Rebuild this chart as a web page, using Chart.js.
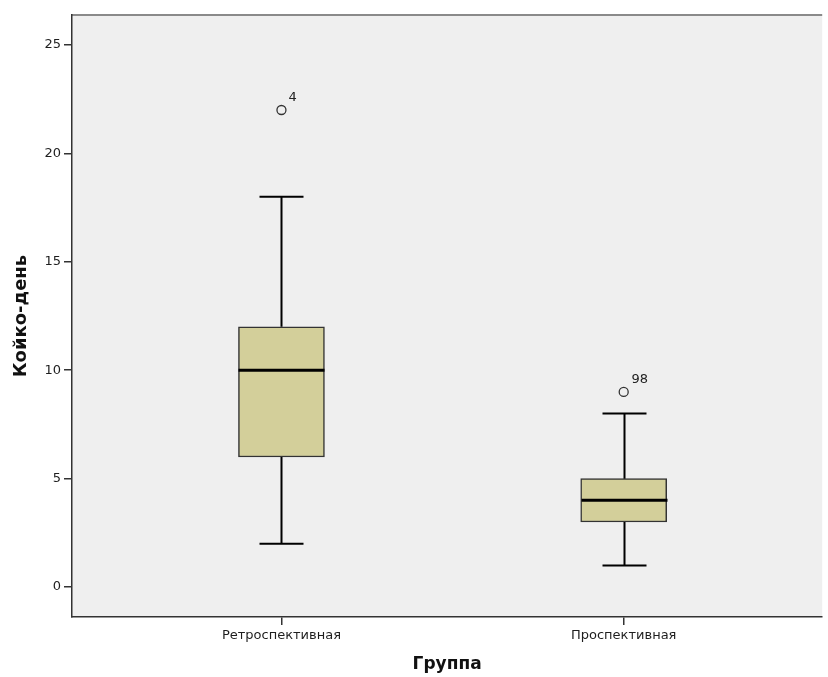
<!DOCTYPE html>
<html>
<head>
<meta charset="utf-8">
<script src="https://cdn.jsdelivr.net/npm/chart.js@4/dist/chart.umd.min.js"></script>
<style>
  html, body { margin: 0; padding: 0; background: #ffffff; overflow: hidden; }
  #wrap { width: 828px; height: 677px; }
  canvas { display: block; }
</style>
</head>
<body>
<div id="wrap"><canvas id="c" width="828" height="677"></canvas></div>
<script>
// Groups and five-number summaries of bed-days
const groups = ['Ретроспективная', 'Проспективная'];
const whiskerLow = [2, 1];
const q1 = [6, 3];
const median = [10, 4];
const q3 = [12, 5];
const whiskerHigh = [18, 8];
// Outliers: value and case number
const outlierValues = [22, 9];
const outlierCases = ['4', '98'];
const yTicks = [0, 5, 10, 15, 20, 25];

const positions = groups.map((g, i) => i + 1);

const boxData = positions.map((p, i) => ({ x: p, y: [q1[i], q3[i]] }));
const outlierData = positions.map((p, i) => ({ x: p, y: outlierValues[i] }));

const FONT = '"DejaVu Sans", sans-serif';

// plot background and top frame line
const frame = {
  id: 'frame',
  beforeDraw(chart) {
    const { ctx, chartArea: a } = chart;
    ctx.save();
    ctx.fillStyle = '#efefef';
    ctx.fillRect(a.left, a.top, a.right - a.left, a.bottom - a.top);
    ctx.strokeStyle = '#8a8a8a';
    ctx.lineWidth = 2;
    ctx.beginPath();
    ctx.moveTo(a.left, a.top);
    ctx.lineTo(a.right, a.top);
    ctx.stroke();
    ctx.restore();
  }
};

// whiskers, caps, medians and outlier case labels
const boxExtras = {
  id: 'boxExtras',
  afterDatasetsDraw(chart) {
    const { ctx, scales: { x, y } } = chart;
    const cap = 22;
    const half = 43;
    ctx.save();
    ctx.strokeStyle = '#000';
    positions.forEach((p, i) => {
      const px = Math.round(x.getPixelForValue(p)) + 0.5;
      ctx.lineWidth = 2;
      ctx.beginPath();
      ctx.moveTo(px, y.getPixelForValue(q3[i]));
      ctx.lineTo(px, y.getPixelForValue(whiskerHigh[i]));
      ctx.moveTo(px, y.getPixelForValue(q1[i]));
      ctx.lineTo(px, y.getPixelForValue(whiskerLow[i]));
      const hy = y.getPixelForValue(whiskerHigh[i]);
      const ly = y.getPixelForValue(whiskerLow[i]);
      ctx.moveTo(px - cap, hy);
      ctx.lineTo(px + cap, hy);
      ctx.moveTo(px - cap, ly);
      ctx.lineTo(px + cap, ly);
      ctx.stroke();
      ctx.lineWidth = 3;
      const my = y.getPixelForValue(median[i]);
      ctx.beginPath();
      ctx.moveTo(px - half, my);
      ctx.lineTo(px + half, my);
      ctx.stroke();
      ctx.fillStyle = '#222';
      ctx.font = '13px ' + FONT;
      ctx.textAlign = 'left';
      ctx.textBaseline = 'middle';
      ctx.fillText(outlierCases[i], px + 7, y.getPixelForValue(outlierValues[i]) - 12);
    });
    ctx.restore();
  }
};

new Chart(document.getElementById('c'), {
  type: 'bar',
  data: {
    datasets: [
      {
        type: 'bar',
        data: boxData,
        backgroundColor: '#d3cf9a',
        borderColor: '#333333',
        borderWidth: 1.5,
        borderSkipped: false,
        barThickness: 86,
        order: 2
      },
      {
        type: 'scatter',
        data: outlierData,
        pointStyle: 'circle',
        pointRadius: 4.5,
        pointBackgroundColor: 'rgba(0,0,0,0)',
        pointBorderColor: '#333333',
        pointBorderWidth: 1.3,
        order: 1
      }
    ]
  },
  options: {
    responsive: false,
    animation: false,
    layout: { padding: { top: 15, right: 0, left: 0, bottom: 0 } },
    plugins: { legend: { display: false }, tooltip: { enabled: false } },
    scales: {
      x: {
        type: 'linear',
        offset: false,
        min: 0.388,
        max: 2.58,
        afterBuildTicks(scale) { scale.ticks = positions.map(v => ({ value: v })); },
        afterFit(scale) {
          scale.height = 60;
          scale.paddingRight = 0;
          scale.paddingLeft = 0;
        },
        ticks: {
          callback: (v) => groups[v - 1] || '',
          color: '#1e1e1e',
          font: { family: FONT, size: 13 },
          padding: 3,
          maxRotation: 0,
          autoSkip: false
        },
        grid: { offset: false, drawOnChartArea: false, tickLength: 8, color: '#333', lineWidth: 1.5 },
        border: { color: '#333', width: 1.5 },
        title: {
          display: true,
          text: 'Группа',
          color: '#111',
          font: { family: FONT, size: 17, weight: 'bold' },
          padding: { top: 0, bottom: 2 }
        }
      },
      y: {
        min: -1.38,
        max: 26.38,
        afterBuildTicks(scale) { scale.ticks = yTicks.map(v => ({ value: v })); },
        afterFit(scale) { scale.width = 72; },
        ticks: {
          color: '#1e1e1e',
          font: { family: FONT, size: 13 },
          padding: 3
        },
        grid: { drawOnChartArea: false, tickLength: 8, color: '#333', lineWidth: 1.5 },
        border: { color: '#333', width: 1.5 },
        title: {
          display: true,
          text: 'Койко-день',
          color: '#111',
          font: { family: FONT, size: 18, weight: 'bold' },
          padding: { top: 11, bottom: 0 }
        }
      }
    }
  },
  plugins: [frame, boxExtras]
});
</script>
</body>
</html>
